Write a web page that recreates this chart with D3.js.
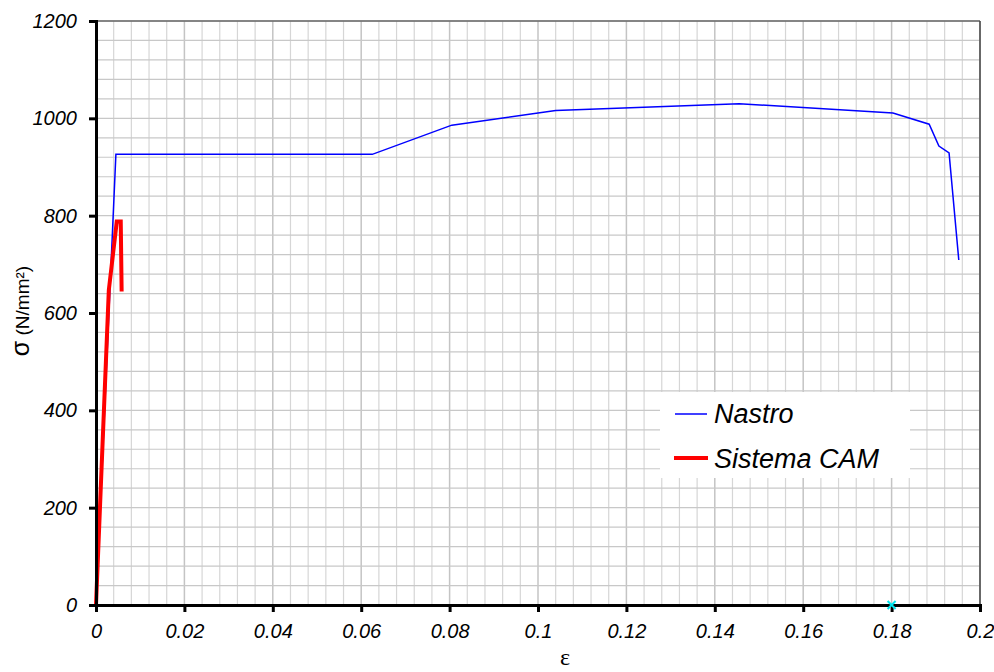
<!DOCTYPE html>
<html>
<head>
<meta charset="utf-8">
<script src="https://cdn.jsdelivr.net/npm/d3@7"></script>
<style>
body { margin: 0; background: #fff; }
text { font-family: "Liberation Sans", Arial, sans-serif; }
</style>
</head>
<body>
<script>
// data
var nastroX = [0, 0.0045, 0.0625, 0.0805, 0.104, 0.1455, 0.1803, 0.1885, 0.1907, 0.193, 0.1952];
var nastroY = [0, 926, 926, 986, 1016, 1030, 1011, 988, 943, 929, 709];
var camX = [0, 0.0029, 0.0047, 0.0056, 0.0058];
var camY = [0, 647, 788, 788, 644];
var markX = [0.18];
var markY = [0];
var xTicks = [0, 0.02, 0.04, 0.06, 0.08, 0.1, 0.12, 0.14, 0.16, 0.18, 0.2];
var yTicks = [0, 200, 400, 600, 800, 1000, 1200];

var width = 994, height = 672;
var pL = 96, pR = 980, pT = 21, pB = 605;

var svg = d3.select("body").append("svg")
	.attr("width", width)
	.attr("height", height);

var x = d3.scaleLinear().domain([0, 0.2]).range([pL, pR]);
var y = d3.scaleLinear().domain([0, 1200]).range([pB, pT]);

// grid, minor then major
var g = svg.append("g");
d3.range(0, 0.2001, 0.004).forEach(function(v){
	var major = Math.abs(v / 0.02 - Math.round(v / 0.02)) < 1e-6;
	g.append("line")
		.attr("x1", x(v)).attr("x2", x(v))
		.attr("y1", pT).attr("y2", pB)
		.attr("stroke", major ? "#c4c4c4" : "#d6d6d6")
		.attr("stroke-width", major ? 1.5 : 1.2);
});
d3.range(0, 1201, 40).forEach(function(v){
	g.append("line")
		.attr("x1", pL).attr("x2", pR)
		.attr("y1", y(v)).attr("y2", y(v))
		.attr("stroke", "#c8c8c8")
		.attr("stroke-width", 1.2);
});

// top and right border
svg.append("line").attr("x1", pL).attr("x2", pR).attr("y1", pT).attr("y2", pT)
	.attr("stroke", "#666").attr("stroke-width", 1.5);
svg.append("line").attr("x1", pR).attr("x2", pR).attr("y1", pT).attr("y2", pB)
	.attr("stroke", "#444").attr("stroke-width", 1.5);

// legend box (white, hides grid)
svg.append("rect")
	.attr("x", 660).attr("y", 392)
	.attr("width", 250).attr("height", 86)
	.attr("fill", "#fff");

// series
var line = d3.line()
	.x(function(d){ return x(d[0]); })
	.y(function(d){ return y(d[1]); });

svg.append("path")
	.datum(d3.zip(nastroX, nastroY))
	.attr("d", line)
	.attr("fill", "none")
	.attr("stroke", "#0000ff")
	.attr("stroke-width", 1.5);

svg.append("path")
	.datum(d3.zip(camX, camY))
	.attr("d", line)
	.attr("fill", "none")
	.attr("stroke", "#ff0000")
	.attr("stroke-width", 4)
	.attr("stroke-linejoin", "miter");

// axes
var xAxis = svg.append("g")
	.attr("transform", "translate(0," + pB + ")")
	.call(d3.axisBottom(x).tickValues(xTicks).tickSize(7).tickPadding(10)
		.tickFormat(function(d){ return String(+d.toFixed(2)); }));
var yAxis = svg.append("g")
	.attr("transform", "translate(" + pL + ",0)")
	.call(d3.axisLeft(y).tickValues(yTicks).tickSize(7).tickPadding(12)
		.tickFormat(function(d){ return String(d); }));

[xAxis, yAxis].forEach(function(a){
	a.attr("font-size", 20).attr("font-family", null);
	a.select(".domain").attr("stroke", "#000").attr("stroke-width", 3);
	a.selectAll(".tick line").attr("stroke", "#000").attr("stroke-width", 3);
	a.selectAll(".tick text")
		.attr("fill", "#000")
		.style("font-style", "italic")
		.style("font-size", "20px");
});
xAxis.selectAll(".tick text").attr("dy", "0.8em");

// cyan marker
svg.selectAll(".mark")
	.data(d3.zip(markX, markY))
	.enter()
	.append("path")
	.attr("d", function(d){
		var cx = x(d[0]), cy = y(d[1]), s = 4;
		return "M" + (cx - s) + "," + (cy - s) + "L" + (cx + s) + "," + (cy + s) +
			"M" + (cx - s) + "," + (cy + s) + "L" + (cx + s) + "," + (cy - s);
	})
	.attr("stroke", "#00e5ee")
	.attr("stroke-width", 2);

// legend
svg.append("line").attr("x1", 675).attr("x2", 707).attr("y1", 414).attr("y2", 414)
	.attr("stroke", "#0000ff").attr("stroke-width", 1.5);
svg.append("text").attr("x", 714).attr("y", 423)
	.style("font-style", "italic").style("font-size", "27px").text("Nastro");
svg.append("line").attr("x1", 674).attr("x2", 708).attr("y1", 458).attr("y2", 458)
	.attr("stroke", "#ff0000").attr("stroke-width", 4);
svg.append("text").attr("x", 714).attr("y", 468)
	.style("font-style", "italic").style("font-size", "27px").text("Sistema CAM");

// axis titles
svg.append("text")
	.attr("transform", "translate(29,311) rotate(-90)")
	.attr("text-anchor", "middle")
	.style("font-size", "19px")
	.html('<tspan style="font-size:25px">σ</tspan> (N/mm²)');
svg.append("text")
	.attr("x", 565).attr("y", 665)
	.attr("text-anchor", "middle")
	.style("font-family", "Liberation Serif, Times New Roman, serif")
	.style("font-size", "24px")
	.text("ε");
</script>
</body>
</html>
